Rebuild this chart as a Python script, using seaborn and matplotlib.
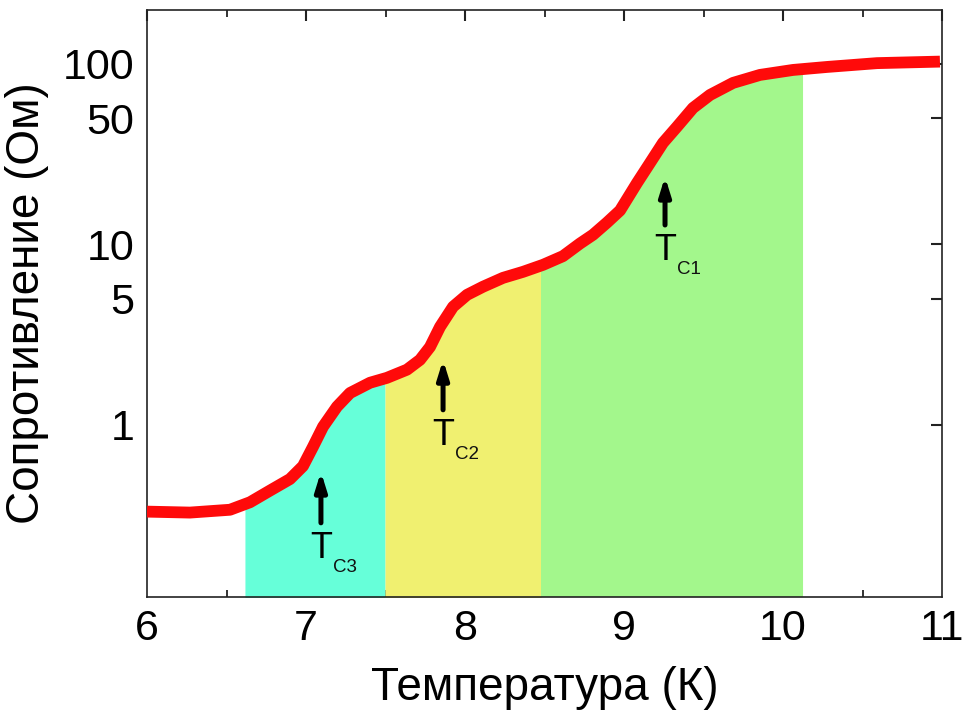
import numpy as np
import pandas as pd
import matplotlib
matplotlib.use("Agg")
import matplotlib.pyplot as plt
from matplotlib.ticker import FixedLocator, NullLocator, MultipleLocator
import seaborn as sns

# ---- data ----
temperature = [6.000, 6.270, 6.522, 6.648, 6.774, 6.899, 6.981, 7.044, 7.107, 7.195,
               7.277, 7.403, 7.509, 7.635, 7.717, 7.780, 7.843, 7.925, 8.013, 8.113,
               8.239, 8.365, 8.491, 8.616, 8.723, 8.805, 8.893, 8.975, 9.082, 9.164,
               9.245, 9.333, 9.434, 9.541, 9.686, 9.855, 10.063, 10.277, 10.591, 10.987]
resistance = [0.330, 0.326, 0.338, 0.372, 0.432, 0.500, 0.590, 0.755, 0.975, 1.26,
              1.50, 1.71, 1.82, 2.02, 2.29, 2.70, 3.49, 4.51, 5.25, 5.82,
              6.52, 7.04, 7.70, 8.60, 10.1, 11.3, 13.2, 15.4, 21.9, 28.3,
              36.5, 44.8, 57.0, 67.3, 78.5, 86.9, 92.6, 96.2, 101.0, 103.0]

region_edges = [(6.616, 7.497), (7.497, 8.478), (8.478, 10.126)]
region_colors = ["#66FFD9", "#F0F070", "#A3F78C"]

tc_names = ["C3", "C2", "C1"]
tc_temps = [7.094, 7.862, 9.258]
tc_arrow_tip = [0.549, 2.29, 23.7]
tc_arrow_tail = [0.286, 1.21, 12.8]

x_ticks = [6, 7, 8, 9, 10, 11]
y_ticks = [1, 5, 10, 50, 100]
y_tick_labels = ["1", "5", "10", "50", "100"]
x_label = "Температура (К)"
y_label = "Сопротивление (Ом)"
xlim = (6, 11)
ylim = (0.111, 199)

# ---- style ----
sns.set_theme(style="white")
plt.rcParams["font.family"] = ["Liberation Sans", "DejaVu Sans"]

fig = plt.figure(figsize=(9.66, 7.13), dpi=100)
ax = fig.add_axes([147 / 966, (713 - 597) / 713, (942 - 147) / 966, (597 - 10) / 713])

df = pd.DataFrame({"T": temperature, "R": resistance})

# shaded regions under the curve
logR = np.log10(np.array(resistance))
tarr = np.array(temperature)
for (a, b), col in zip(region_edges, region_colors):
    inside = (tarr > a) & (tarr < b)
    xs = np.concatenate([[a], tarr[inside], [b]])
    ys = 10 ** np.concatenate([[np.interp(a, tarr, logR)], logR[inside], [np.interp(b, tarr, logR)]])
    ax.fill_between(xs, 1e-3, ys, color=col, linewidth=0, zorder=1)

sns.lineplot(data=df, x="T", y="R", ax=ax, color="#FF0A0A", linewidth=8.5,
             solid_capstyle="butt", solid_joinstyle="round", zorder=3)

ax.set_yscale("log")
ax.set_xlim(*xlim)
ax.set_ylim(*ylim)

# arrows and labels
for name, t, tip, tail in zip(tc_names, tc_temps, tc_arrow_tip, tc_arrow_tail):
    ax.annotate("", xy=(t, tip), xytext=(t, tail),
                arrowprops=dict(arrowstyle="-|>,head_length=0.9,head_width=0.28",
                                color="black", lw=3.6, mutation_scale=12,
                                shrinkA=0, shrinkB=0), zorder=4)
    ax.annotate("T", xy=(t, tail), xytext=(0, -25), textcoords="offset points",
                ha="center", va="baseline", fontsize=26, color="black", zorder=4)
    ax.annotate(name, xy=(t, tail), xytext=(8.5, -35.5), textcoords="offset points",
                ha="left", va="baseline", fontsize=13.5, color="#111111", zorder=4)

# axes styling
for sp in ax.spines.values():
    sp.set_visible(True)
    sp.set_color("#222222")
    sp.set_linewidth(1.2)

ax.xaxis.set_major_locator(FixedLocator(x_ticks))
ax.xaxis.set_minor_locator(MultipleLocator(0.5))
ax.set_xticklabels([str(v) for v in x_ticks])
ax.yaxis.set_major_locator(FixedLocator(y_ticks))
ax.yaxis.set_minor_locator(NullLocator())
ax.set_yticklabels(y_tick_labels)

ax.tick_params(axis="both", which="major", direction="in", length=8, width=1.5,
               color="#222222", top=True, right=True, labelsize=31, pad=9,
               labelcolor="black")
ax.tick_params(axis="x", which="minor", direction="in", length=5, width=1.3,
               color="#222222", top=True, bottom=True)

ax.set_xlabel(x_label, fontsize=33, labelpad=12, color="black")
ax.set_ylabel(y_label, fontsize=33, labelpad=10, color="black")
ax.grid(False)

fig.savefig("out.png", dpi=100, facecolor="white")
